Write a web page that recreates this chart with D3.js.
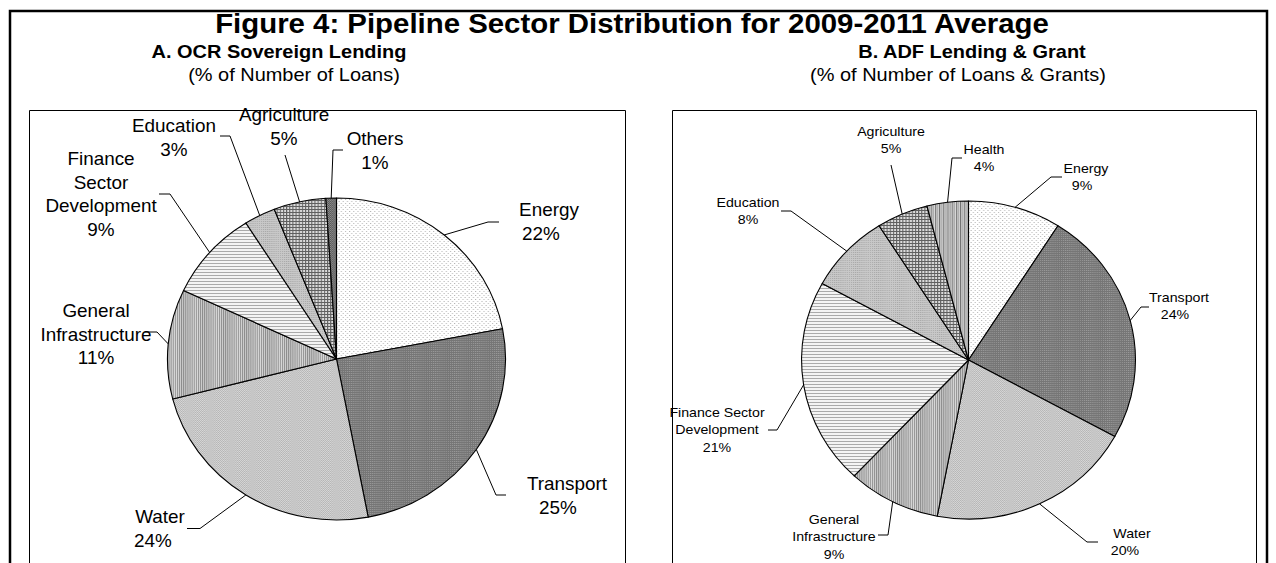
<!DOCTYPE html>
<html>
<head>
<meta charset="utf-8">
<script src="https://cdn.jsdelivr.net/npm/d3@7"></script>
<style>
  html, body { margin: 0; padding: 0; background: #fff; }
  svg { display: block; }
  text { font-family: Arial, "Liberation Sans", sans-serif; fill: #000; }
</style>
</head>
<body>
<svg id="chart" width="1276" height="563"></svg>
<script>
// ---- Data: pipeline sector shares, 2009-2011 average ----
const sectorsA = ["Energy", "Transport", "Water", "General Infrastructure",
                  "Finance Sector Development", "Education", "Agriculture", "Others"];
const valuesA  = [22, 25, 24, 11, 9, 3, 5, 1];

const sectorsB = ["Energy", "Transport", "Water", "General Infrastructure",
                  "Finance Sector Development", "Education", "Agriculture", "Health"];
const valuesB  = [9, 24, 20, 9, 21, 8, 5, 4];

const chartTitle = "Figure 4: Pipeline Sector Distribution for 2009-2011 Average";
const titleA = "A. OCR Sovereign Lending";
const unitA  = "(% of Number of Loans)";
const titleB = "B. ADF Lending & Grant";
const unitB  = "(% of Number of Loans & Grants)";

// ---- Styling ----
const K = 1.05;            // slight horizontal stretch of the whole figure
const fillOf = {
  "Energy": "pEnergy",
  "Transport": "pTransport",
  "Water": "pWater",
  "General Infrastructure": "pGenInfra",
  "Finance Sector Development": "pFinance",
  "Education": "pEducation",
  "Agriculture": "pAgri",
  "Others": "pOthers",
  "Health": "pHealth"
};

const svg = d3.select("#chart");
const defs = svg.append("defs");

// Monochrome hatch fills built from small pixel tiles
function tile(id, w, h, bg, cells) {
  const p = defs.append("pattern").attr("id", id)
    .attr("patternUnits", "userSpaceOnUse").attr("width", w).attr("height", h);
  p.append("rect").attr("width", w).attr("height", h).attr("fill", bg);
  cells.forEach(([x, y, cw, ch, c]) =>
    p.append("rect").attr("x", x).attr("y", y).attr("width", cw).attr("height", ch).attr("fill", c));
}
tile("pEnergy", 4, 4, "#ffffff", [[0, 0, 1, 1, "#b4b4b4"], [2, 2, 1, 1, "#b4b4b4"]]);
tile("pTransport", 2, 2, "#767676", [[0, 0, 1, 1, "#999999"]]);
tile("pWater", 2, 2, "#d8d8d8", [[0, 0, 1, 1, "#b4b4b4"], [1, 1, 1, 1, "#b4b4b4"]]);
tile("pGenInfra", 2, 2, "#dadada", [[0, 0, 1, 2, "#8a8a8a"]]);
tile("pFinance", 3, 3, "#f4f4f4", [[0, 0, 3, 1, "#aaaaaa"]]);
tile("pEducation", 2, 2, "#c8c8c8", [[0, 0, 1, 1, "#a8a8a8"]]);
tile("pAgri", 3, 3, "#606060", [[1, 1, 2, 2, "#dcdcdc"]]);
tile("pOthers", 2, 2, "#8e8e8e", [[0, 0, 1, 1, "#555555"], [1, 1, 1, 1, "#555555"]]);
tile("pHealth", 4, 4, "#dadada", [[0, 0, 1, 4, "#707070"], [2, 0, 1, 4, "#9a9a9a"]]);

// ---- Frames ----
svg.append("path").attr("d", "M10,563V11H1267V563")
  .attr("fill", "none").attr("stroke", "#000").attr("stroke-width", 2.5);
svg.append("path").attr("d", "M29.5,563V110.5H625.5V563")
  .attr("fill", "none").attr("stroke", "#000").attr("stroke-width", 1);
svg.append("path").attr("d", "M672.5,563V110.5H1256.5V563")
  .attr("fill", "none").attr("stroke", "#000").attr("stroke-width", 1);

// text helper: horizontally stretched text anchored at (x, y)
function txt(g, s, x, y, size, weight, anchor) {
  return g.append("text")
    .attr("transform", `translate(${x},${y}) scale(${K},1)`)
    .attr("text-anchor", anchor || "middle")
    .attr("font-size", size)
    .attr("font-weight", weight || "normal")
    .text(s);
}

// ---- Titles ----
txt(svg, chartTitle, 632, 33, 28, "bold");
txt(svg, titleA, 279, 58, 19, "bold");
txt(svg, unitA, 294, 81, 19);
txt(svg, titleB, 972, 58, 19, "bold");
txt(svg, unitB, 958, 81, 19);

// ---- Label layouts (name lines, block position, leader bend) ----
const labelsA = {
  "Energy":                     { lines: ["Energy"], x: 549, y: 216, pctDx: -8, bend: [488, 222], end: [499, 222] },
  "Transport":                  { lines: ["Transport"], x: 567, y: 490, pctDx: -9, bend: [496, 495], end: [506, 495] },
  "Water":                      { lines: ["Water"], x: 160, y: 523, pctDx: -7, bend: [200, 528.5], end: [187, 528.5] },
  "General Infrastructure":     { lines: ["General", "Infrastructure"], x: 96, y: 317, bend: [157, 332], end: [145, 332] },
  "Finance Sector Development": { lines: ["Finance", "Sector", "Development"], x: 101, y: 165, bend: [170, 194], end: [159, 194] },
  "Education":                  { lines: ["Education"], x: 174, y: 132, bend: [230, 136], end: [220, 136] },
  "Agriculture":                { lines: ["Agriculture"], x: 284, y: 121, bend: [285, 155], end: [285, 155] },
  "Others":                     { lines: ["Others"], x: 375, y: 145, bend: [333, 150], end: [343, 150] }
};
const labelsB = {
  "Energy":                     { lines: ["Energy"], x: 1086, y: 173, pctDx: -4, bend: [1051, 177], end: [1062, 177] },
  "Transport":                  { lines: ["Transport"], x: 1179, y: 302, pctDx: -4, bend: [1141, 307], end: [1149, 307] },
  "Water":                      { lines: ["Water"], x: 1132, y: 538, pctDx: -7, bend: [1087, 542], end: [1098, 542] },
  "General Infrastructure":     { lines: ["General", "Infrastructure"], x: 834, y: 524, bend: [888, 535], end: [878, 535] },
  "Finance Sector Development": { lines: ["Finance Sector", "Development"], x: 717, y: 417, bend: [777, 430], end: [768, 430] },
  "Education":                  { lines: ["Education"], x: 748, y: 207, bend: [791, 211], end: [781, 211] },
  "Agriculture":                { lines: ["Agriculture"], x: 891, y: 136, bend: [891, 165], end: [891, 165] },
  "Health":                     { lines: ["Health"], x: 984, y: 154, bend: [952, 158], end: [962, 158] }
};

// ---- Pie drawing ----
function drawPie(sectors, values, labels, cx, cy, ry, fontSize, lineGap) {
  const rx = ry * K;
  const g = svg.append("g");
  const pie = d3.pie().sort(null).value(d => d.value).startAngle(0).endAngle(2 * Math.PI);
  const data = sectors.map((s, i) => ({ sector: s, value: values[i] }));
  const arcs = pie(data);
  const arc = d3.arc().innerRadius(0).outerRadius(ry);

  const pg = g.append("g").attr("transform", `translate(${cx},${cy}) scale(${K},1)`);
  pg.selectAll("path").data(arcs).join("path")
    .attr("d", arc)
    .attr("fill", d => `url(#${fillOf[d.data.sector]})`)
    .attr("stroke", "#000")
    .attr("stroke-width", 1.1)
    .attr("vector-effect", "non-scaling-stroke")
    .attr("stroke-linejoin", "round");

  // leader lines from the slice's mid-angle rim point to the label
  const line = d3.line();
  arcs.forEach(a => {
    const L = labels[a.data.sector];
    const mid = (a.startAngle + a.endAngle) / 2;
    const rim = [cx + rx * Math.sin(mid), cy - ry * Math.cos(mid)];
    g.append("path")
      .attr("d", line([rim, L.bend, L.end]))
      .attr("fill", "none").attr("stroke", "#000").attr("stroke-width", 1);
  });

  // labels: sector name lines followed by the percentage
  arcs.forEach(a => {
    const L = labels[a.data.sector];
    L.lines.forEach((s, i) => txt(g, s, L.x, L.y + i * lineGap, fontSize));
    txt(g, `${a.data.value}%`, L.x + (L.pctDx || 0), L.y + L.lines.length * lineGap, fontSize);
  });
}

drawPie(sectorsA, valuesA, labelsA, 336.5, 359, 161, 18, 23.7);
drawPie(sectorsB, valuesB, labelsB, 968.5, 360, 159, 13.5, 17.4);
</script>
</body>
</html>
